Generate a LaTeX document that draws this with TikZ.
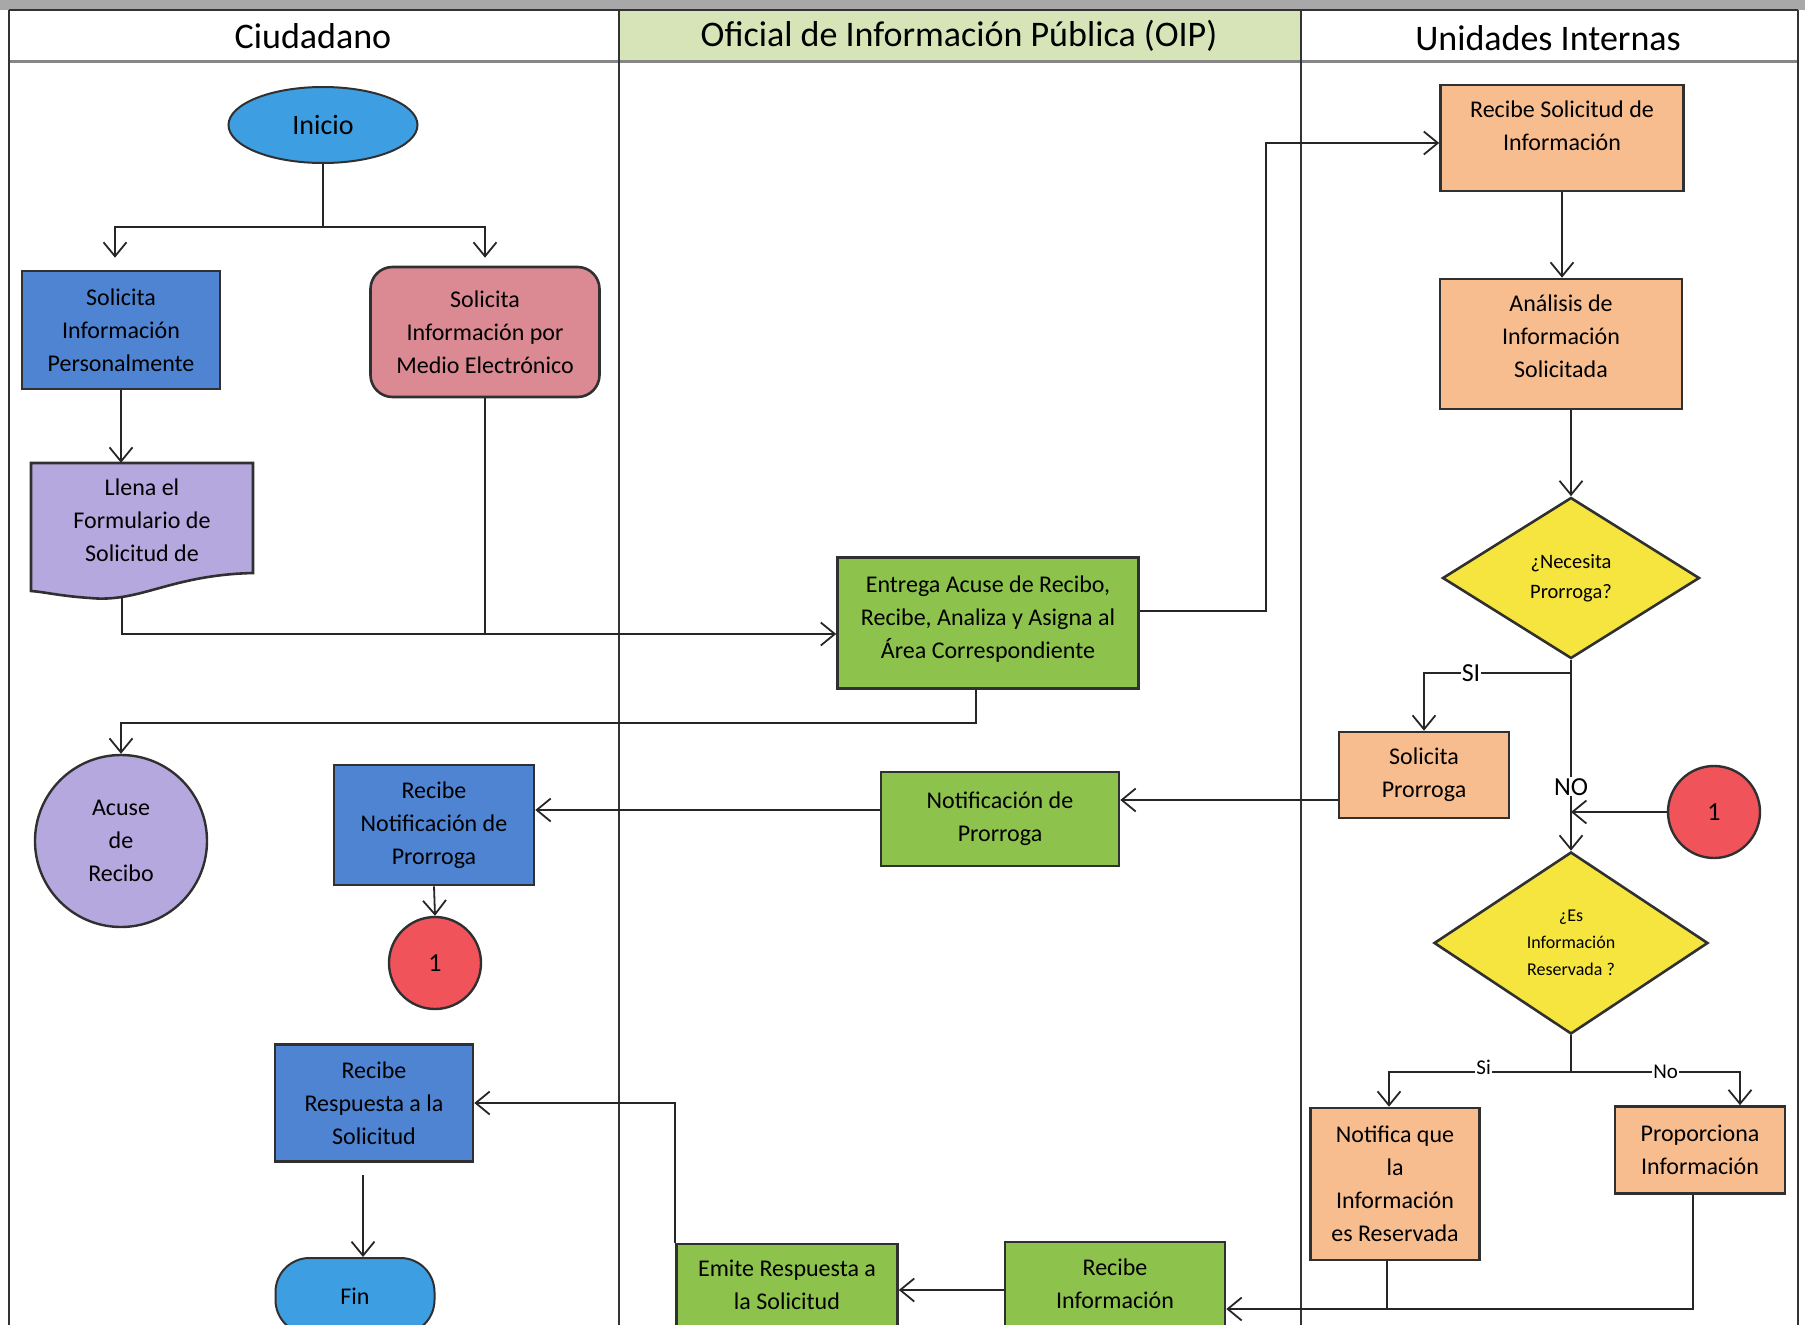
\documentclass[tikz,border=0pt]{standalone}
\usepackage{fontspec}
\setmainfont{Carlito}
\usetikzlibrary{arrows.meta, positioning, shapes.geometric}

\definecolor{azulinicio}{RGB}{62,158,226}
\definecolor{azulciu}{RGB}{78,132,210}
\definecolor{rosa}{RGB}{219,137,147}
\definecolor{lila}{RGB}{180,168,222}
\definecolor{verde}{RGB}{141,194,76}
\definecolor{verdeclaro}{RGB}{214,228,184}
\definecolor{naranja}{RGB}{248,189,142}
\definecolor{amarillo}{RGB}{245,229,62}
\definecolor{rojo}{RGB}{240,84,90}
\definecolor{gris}{RGB}{168,168,168}
\definecolor{borde}{RGB}{48,48,48}

\tikzset{
  caja/.style={draw=borde, line width=2.6pt, rectangle, align=center, inner sep=2pt,
    font=\fontsize{24}{33}\selectfont},
  ciu/.style={caja, fill=azulciu},
  oip/.style={caja, fill=verde},
  uni/.style={caja, fill=naranja},
  decision/.style={caja, diamond, fill=amarillo, inner sep=0pt},
  conector/.style={circle, draw=borde, line width=2.4pt, fill=rojo, minimum size=92pt,
    font=\fontsize{26}{30}\selectfont},
  terminal/.style={caja, fill=azulinicio, line width=2pt},
  linea/.style={draw=black!85, line width=1.8pt},
  flecha/.style={linea, -{Straight Barb[length=14pt, width=23pt, line width=1.8pt]}},
  carril/.style={draw=black!80, line width=1.5pt},
  titulo/.style={font=\fontsize{36}{40}\selectfont},
  rotulo/.style={fill=white, inner sep=1pt},
}

\begin{document}
\begin{tikzpicture}[x=1pt, y=-1pt]
    \useasboundingbox (0,0) rectangle (1805,1325);
    \clip (0,0) rectangle (1805,1325);

    % carriles
    \fill[gris] (0,0) rectangle (1805,10);
    \fill[verdeclaro] (619,10) rectangle (1301,61);
    \draw[carril] (9,10) -- (1798,10);
    \draw[draw=gris!80!black, line width=3pt] (9,61) -- (1798,61);
    \foreach \x in {9,619,1301,1798}
        \draw[carril] (\x,10) -- (\x,1330);
    \node[titulo] (hciu) at (313,36) {Ciudadano};
    \node[titulo] (hoip) at (959,36) {Oficial de Información Pública (OIP)};
    \node[titulo] (huni) at (1548,38) {Unidades Internas};

    % Ciudadano
    \node[terminal, ellipse, minimum width=189pt, minimum height=76pt, font=\fontsize{28}{32}\selectfont] (inicio) at (323,125) {Inicio};
    \node[ciu, minimum width=198pt, minimum height=118pt] (solper) at (121,330) {Solicita\\Información\\Personalmente};
    \node[caja, fill=rosa, rounded corners=22pt, minimum width=229pt, minimum height=130pt] (solelec) at (485,332) {Solicita\\Información por\\Medio Electrónico};
    \filldraw[fill=lila, draw=borde, line width=2.6pt] (31,463) -- (253,463) -- (253,573)
        .. controls (170,575) and (140,603) .. (90,598)
        .. controls (60,596) and (45,592) .. (31,591) -- cycle;
    \node[minimum width=222pt, minimum height=106pt, align=center, font=\fontsize{24}{33}\selectfont] (llena) at (142,520) {Llena el\\Formulario de\\Solicitud de};
    \node[circle, draw=borde, line width=2.4pt, fill=lila, minimum size=172pt, align=center, font=\fontsize{24}{33}\selectfont] (acuse) at (121,841) {Acuse\\de\\Recibo};
    \node[ciu, minimum width=200pt, minimum height=120pt] (recnot) at (434,825) {Recibe\\Notificación de\\Prorroga};
    \node[conector] (unoa) at (435,963) {1};
    \node[ciu, minimum width=198pt, minimum height=117pt] (recres) at (374,1103) {Recibe\\Respuesta a la\\Solicitud};
    \node[terminal, rounded corners=34pt, minimum width=159pt, minimum height=76pt] (fin) at (355,1296) {Fin};

    % OIP
    \node[oip, minimum width=301pt, minimum height=131pt, text depth=12pt] (entrega) at (988,623) {Entrega Acuse de Recibo,\\Recibe, Analiza y Asigna al\\Área Correspondiente};
    \node[oip, minimum width=238pt, minimum height=94pt] (notpro) at (1000,819) {Notificación de\\Prorroga};
    \node[oip, minimum width=221pt, minimum height=90pt, text depth=8pt] (emite) at (787,1289) {Emite Respuesta a\\la Solicitud};
    \node[oip, minimum width=220pt, minimum height=90pt, text depth=6pt] (recinf) at (1115,1287) {Recibe\\Información};

    % Unidades Internas
    \node[uni, minimum width=243pt, minimum height=106pt, text depth=24pt] (recsol) at (1562,138) {Recibe Solicitud de\\Información};
    \node[uni, minimum width=242pt, minimum height=130pt, text depth=16pt] (analisis) at (1561,344) {Análisis de\\Información\\Solicitada};
    \node[decision, minimum width=257pt, minimum height=161pt, font=\fontsize{20.5}{30}\selectfont] (neces) at (1571,578) {¿Necesita\\Prorroga?};
    \node[uni, minimum width=170pt, minimum height=86pt] (solpro) at (1424,775) {Solicita\\Prorroga};
    \node[conector] (unob) at (1714,812) {1};
    \node[decision, minimum width=274pt, minimum height=182pt, font=\fontsize{18}{27}\selectfont] (esres) at (1571,943) {¿Es\\Información\\Reservada ?};
    \node[uni, minimum width=169pt, minimum height=152pt] (notres) at (1395,1184) {Notifica que\\la\\Información\\es Reservada};
    \node[uni, minimum width=170pt, minimum height=87pt] (propinf) at (1700,1150) {Proporciona\\Información};

    % conexiones
    \draw[linea] (inicio.south) -- ++(0,63) coordinate (rama);
    \draw[flecha] (rama) -| ([xshift=-6pt, yshift=12pt]solper.north);
    \draw[flecha] (rama) -| ([yshift=8pt]solelec.north);
    \draw[flecha] (solper.south) -- ([yshift=4pt]solper.south |- llena.north);
    \coordinate (llenab) at (122,597);
    \coordinate (entin) at ([yshift=-11pt]entrega.west);
    \draw[flecha] (llenab) |- (entin);
    \draw[linea] (solelec.south) -- (solelec.south |- entin);
    \draw[flecha] ([yshift=12pt]entrega.east) -- ++(126,0) |- (recsol.west |- 0,143);
    \draw[flecha] ([xshift=-12pt]entrega.south) -- ++(0,33) -| (acuse.north);
    \draw[flecha] (recsol.south) -- (recsol.south |- analisis.north);
    \draw[flecha] (analisis.south -| neces.north) -- (neces.north);
    \draw[linea] (neces.south) -- ++(0,13) coordinate (nsi);
    \draw[flecha] (nsi) -| (solpro.north) node[rotulo, pos=0.34, font=\fontsize{26}{30}\selectfont] {SI};
    \draw[flecha] (neces.south) -- (esres.north) node[rotulo, pos=0.665, font=\fontsize{26}{30}\selectfont] {NO};
    \draw[flecha] (unob.west) -- (unob.west -| neces.south);
    \draw[flecha] (solpro.west |- 0,800) -- (notpro.east |- 0,800);
    \draw[flecha] (notpro.west |- 0,810) -- (recnot.east |- 0,810);
    \draw[flecha] (recnot.south) -- (unoa.north);
    \draw[linea] (esres.south) -- ++(0,37) coordinate (erb);
    \draw[flecha] (erb) -| ([xshift=-6pt]notres.north) node[rotulo, pos=0.24, yshift=5pt, font=\fontsize{21}{24}\selectfont] {Si};
    \draw[flecha] (erb) -| ([xshift=40pt]propinf.north) node[rotulo, pos=0.28, font=\fontsize{21}{24}\selectfont] {No};
    \draw[linea] ([xshift=-8pt]notres.south) -- ++(0,49);
    \draw[flecha] ([xshift=-7pt]propinf.south) |- (recinf.east |- 0,1309);
    \draw[flecha] (recinf.west |- 0,1290) -- (emite.east |- 0,1290);
    \draw[flecha] (emite.north west) |- (recres.east);
    \coordinate (finn) at ([xshift=8pt]fin.north);
    \draw[flecha] (finn |- 0,1175) -- (finn);
\end{tikzpicture}
\end{document}
